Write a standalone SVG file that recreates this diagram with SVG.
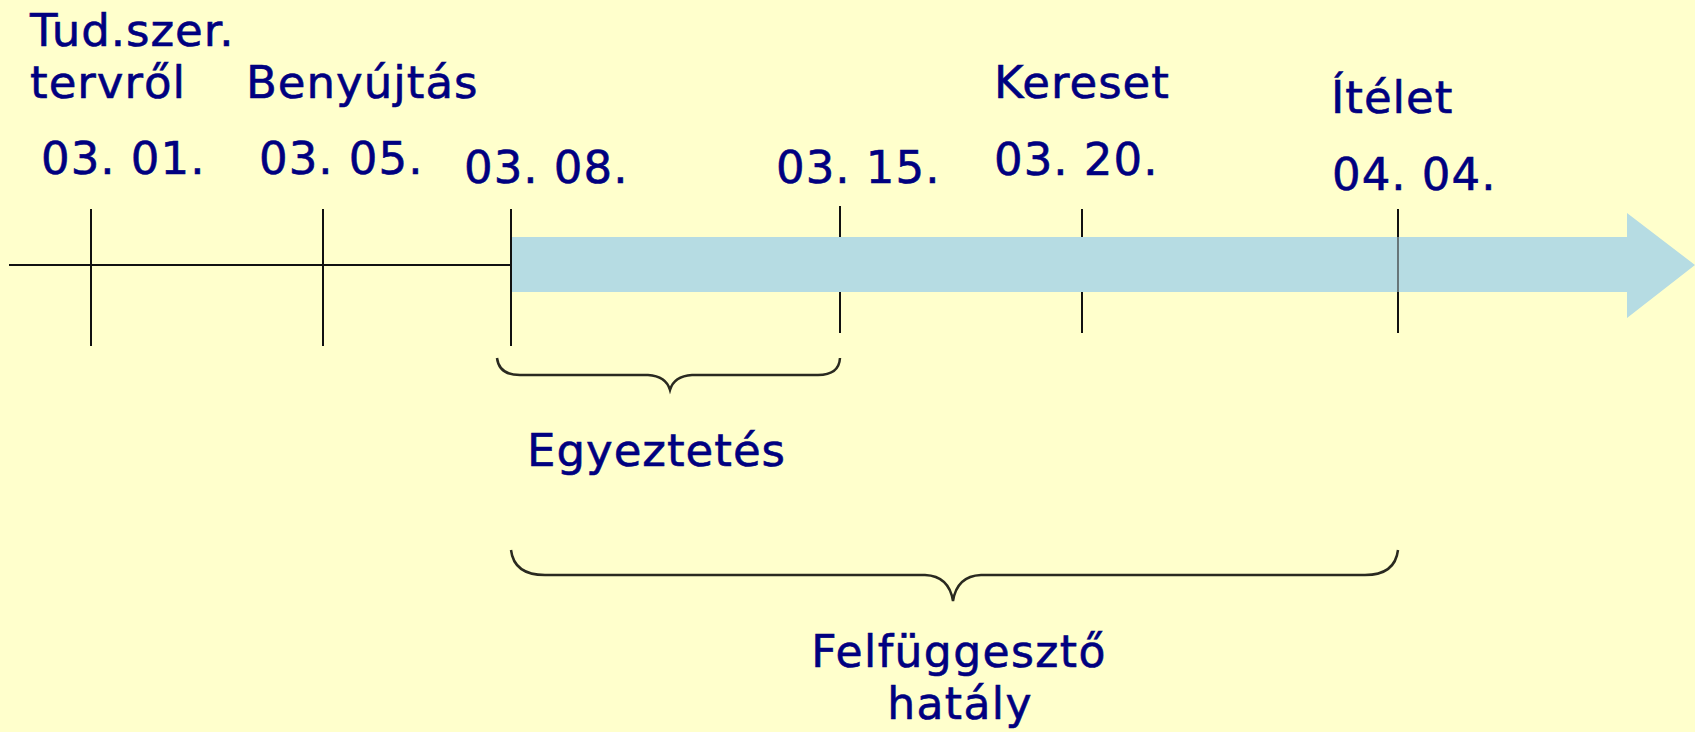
<svg xmlns="http://www.w3.org/2000/svg" width="1695" height="732" viewBox="0 0 1695 732">
<style>
.t{font-family:"DejaVu Sans","Verdana",sans-serif;font-size:45px;fill:#000080;stroke:#000080;stroke-width:0.6;letter-spacing:1px}
.s{font-size:44px;letter-spacing:1.4px}
.tk{stroke:#111;stroke-width:2;fill:none}
.br{stroke:#2a2a20;stroke-width:2.5;fill:none}
</style>
<rect width="1695" height="732" fill="#FFFFCC"/>
<g id="connectors">
<line x1="9" y1="265" x2="511" y2="265" class="tk"/>
<line x1="840" y1="206" x2="840" y2="333" class="tk"/>
<line x1="1082" y1="209" x2="1082" y2="333" class="tk"/>
<polygon id="arrow" points="511,237 1627,237 1627,213 1695,265 1627,318 1627,292 511,292" fill="#B6DCE3"/>
<line x1="91" y1="209" x2="91" y2="346" class="tk"/>
<line x1="323" y1="209" x2="323" y2="346" class="tk"/>
<line x1="511" y1="209" x2="511" y2="346" class="tk"/>
<line x1="1398" y1="209" x2="1398" y2="237" class="tk"/>
<line x1="1398" y1="292" x2="1398" y2="333" class="tk"/>
<line x1="1398" y1="237" x2="1398" y2="292" stroke="#333" stroke-width="1.2"/>
<path class="br" d="M497,358 Q499,375 520,375 L648,375 Q666,376 670,390 Q674,376 692,375 L818,375 Q839,375 840,358"/>
<path class="br" d="M511,550 Q514,575 545,575 L925,575 Q949,576 953,601 Q957,576 981,575 L1365,575 Q1395,575 1398,550"/>
</g>
<g id="n-0301"><text class="t" x="30" y="46">Tud.szer.</text><text class="t" x="30" y="98">tervről</text><text class="t" x="41" y="174">03. 01.</text></g>
<g id="n-0305"><text class="t" x="246" y="98">Benyújtás</text><text class="t" x="259" y="174">03. 05.</text></g>
<g id="n-0308"><text class="t" x="464" y="183">03. 08.</text></g>
<g id="n-0315"><text class="t" x="776" y="183">03. 15.</text></g>
<g id="n-0320"><text class="t" x="994" y="98">Kereset</text><text class="t" x="994" y="175">03. 20.</text></g>
<g id="n-0404"><text class="t" x="1331" y="113">Ítélet</text><text class="t" x="1332" y="190">04. 04.</text></g>
<g id="n-egyeztetes"><text class="t" x="527" y="466">Egyeztetés</text></g>
<g id="n-felfuggeszto"><text class="t s" x="959" y="667" text-anchor="middle">Felfüggesztő</text><text class="t s" x="960" y="719" text-anchor="middle">hatály</text></g>
</svg>
